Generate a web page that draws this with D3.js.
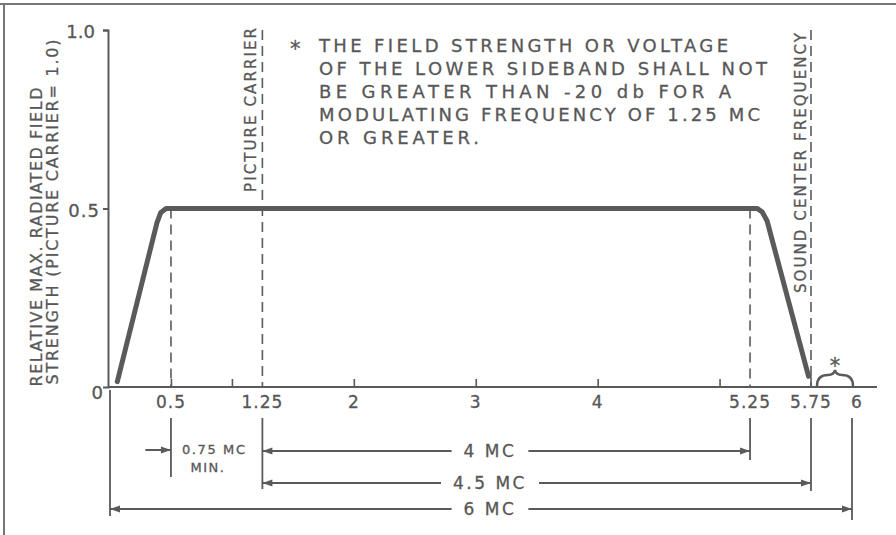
<!DOCTYPE html>
<html>
<head>
<meta charset="utf-8">
<script src="https://cdn.jsdelivr.net/npm/d3@7"></script>
<style>
  body { margin: 0; background: #fff; }
  text { font-family: "DejaVu Sans", sans-serif; fill: #575757; stroke: #575757; stroke-width: 0.3; }
</style>
</head>
<body>
<svg id="chart" width="896" height="535"></svg>
<script>
// response curve (MC, relative field strength)
const curveX = [0.06, 0.385, 0.415, 0.46, 5.31, 5.35, 5.39, 5.73];
const curveY = [0.015, 0.46, 0.488, 0.5, 0.5, 0.49, 0.465, 0.03];

const xTickMarks = [0.5, 1, 2, 3, 4, 5];
const xTickLabels = [0.5, 1.25, 2, 3, 4, 5.25, 5.75, 6];
const yTicks = [0, 0.5, 1.0];
const yTickLabels = ["0", "0.5", "1.0"];

// dashed verticals: frequency and value where they start
const refX = [0.5, 1.25, 5.25, 5.75];
const refTop = [0.5, 1.0, 0.5, 1.0];

// dimension lines below the axis
const dimLabels = ["4 MC", "4.5 MC", "6 MC"];
const dimStart = [1.25, 1.25, 0];
const dimEnd = [5.25, 5.75, 6];

const noteLines = [
  "THE FIELD STRENGTH OR VOLTAGE",
  "OF THE LOWER SIDEBAND SHALL NOT",
  "BE GREATER THAN  -20 db FOR A",
  "MODULATING FREQUENCY OF 1.25 MC",
  "OR GREATER."
];
const yTitle = ["RELATIVE MAX. RADIATED FIELD", "STRENGTH (PICTURE CARRIER= 1.0)"];

const ink = "#5a5a5a";
const svg = d3.select("#chart");

const x = d3.scaleLinear().domain([0, 5.75, 6]).range([110, 811, 852]);
const y = d3.scaleLinear().domain([0, 1]).range([387, 30]);

// frame
svg.append("line").attr("x1", 0).attr("x2", 896).attr("y1", 4).attr("y2", 4)
  .attr("stroke", "#777").attr("stroke-width", 2);
svg.append("line").attr("x1", 4).attr("x2", 4).attr("y1", 4).attr("y2", 535)
  .attr("stroke", "#777").attr("stroke-width", 2);

// arrow marker
svg.append("defs").append("marker")
  .attr("id", "arr")
  .attr("viewBox", "0 -4 10 8")
  .attr("refX", 10).attr("refY", 0)
  .attr("markerUnits", "userSpaceOnUse")
  .attr("markerWidth", 11).attr("markerHeight", 8)
  .attr("orient", "auto-start-reverse")
  .append("path").attr("d", "M0,-3.6L10,0L0,3.6Z").attr("fill", ink);

// y axis
const yAxis = svg.append("g")
  .attr("transform", `translate(${x(0) - 2},0)`)
  .call(d3.axisLeft(y).tickValues([0.5, 1]).tickSize(5).tickFormat(""));
yAxis.select(".domain").attr("stroke", ink).attr("stroke-width", 2);
yAxis.selectAll(".tick line").attr("stroke", ink).attr("stroke-width", 2);

svg.selectAll(".ylab").data(yTicks).join("text")
  .attr("class", "ylab")
  .attr("x", (d, i) => x(0) - (i === 0 ? 6 : i === 1 ? 10 : 15))
  .attr("y", d => y(d) + (d === 0 ? 6 : 2))
  .attr("dy", "0.36em")
  .attr("text-anchor", "end")
  .attr("font-size", 18)
  .attr("letter-spacing", (d, i) => i === 2 ? 0 : 1)
  .text((d, i) => yTickLabels[i]);

// x axis baseline and ticks
svg.append("line")
  .attr("x1", x(0) - 2).attr("x2", x(6) + 25)
  .attr("y1", y(0)).attr("y2", y(0))
  .attr("stroke", ink).attr("stroke-width", 2);

const xAxis = svg.append("g")
  .attr("transform", `translate(0,${y(0)})`)
  .call(d3.axisBottom(x).tickValues(xTickMarks).tickSize(-8).tickFormat(""));
xAxis.select(".domain").remove();
xAxis.selectAll(".tick line").attr("stroke", ink).attr("stroke-width", 1.6);

svg.selectAll(".xlab").data(xTickLabels).join("text")
  .attr("class", "xlab")
  .attr("x", d => x(d) + (d === 6 ? 5 : 0))
  .attr("y", y(0) + 21)
  .attr("text-anchor", "middle")
  .attr("font-size", 17)
  .attr("letter-spacing", 1)
  .text(d => d);

// dashed reference lines
svg.selectAll(".ref").data(refX).join("line")
  .attr("class", "ref")
  .attr("x1", d => x(d)).attr("x2", d => x(d))
  .attr("y1", (d, i) => y(refTop[i]))
  .attr("y2", y(0))
  .attr("stroke", ink).attr("stroke-width", 1.6)
  .attr("stroke-dasharray", "10,6");

// vertical labels
svg.append("text")
  .attr("transform", `translate(${x(1.25) - 5},110) rotate(-90)`)
  .attr("text-anchor", "middle").attr("dy", "-0.1em")
  .attr("font-size", 15)
  .attr("textLength", 164).attr("lengthAdjust", "spacing")
  .text("PICTURE CARRIER");

svg.append("text")
  .attr("transform", `translate(${x(5.75) - 4},163) rotate(-90)`)
  .attr("text-anchor", "middle").attr("dy", "-0.1em")
  .attr("font-size", 15)
  .attr("textLength", 260).attr("lengthAdjust", "spacing")
  .text("SOUND CENTER FREQUENCY");

// y title
const titleCenter = [[36, 237, 299], [52, 212, 345]];
yTitle.forEach((t, i) => {
  svg.append("text")
    .attr("transform", `translate(${titleCenter[i][0]},${titleCenter[i][1]}) rotate(-90)`)
    .attr("text-anchor", "middle").attr("dy", "0.36em")
    .attr("font-size", 16)
    .attr("textLength", titleCenter[i][2]).attr("lengthAdjust", "spacing")
    .text(t);
});

// note text
const noteWidth = [409, 448, 412, 441, 160];
svg.append("text")
  .attr("x", 290).attr("y", 48).attr("dy", "0.36em")
  .attr("font-size", 21).text("*");
noteLines.forEach((t, i) => {
  svg.append("text")
    .attr("x", 319).attr("y", 46 + i * 23).attr("dy", "0.36em")
    .attr("font-size", 18)
    .attr("textLength", noteWidth[i]).attr("lengthAdjust", "spacing")
    .text(t);
});

// response curve
const line = d3.line()
  .x(d => x(d[0])).y(d => y(d[1]));
svg.append("path")
  .datum(curveX.map((v, i) => [v, curveY[i]]))
  .attr("d", line)
  .attr("fill", "none")
  .attr("stroke", ink)
  .attr("stroke-width", 5)
  .attr("stroke-linecap", "round")
  .attr("stroke-linejoin", "round");

// short stub at 5.75
svg.append("line")
  .attr("x1", x(5.75)).attr("x2", x(5.75))
  .attr("y1", y(0.03)).attr("y2", y(0))
  .attr("stroke", ink).attr("stroke-width", 1.6);

// brace over 5.75 - 6
const bx0 = x(5.75) + 6, bx1 = x(6) + 1, bm = (bx0 + bx1) / 2, bb = y(0) - 1, bt = y(0) - 12;
svg.append("path")
  .attr("d", `M${bx0},${bb} Q${bx0},${bt} ${bm - 7},${bt} Q${bm - 1},${bt} ${bm},${bt - 5}` +
             ` Q${bm + 1},${bt} ${bm + 7},${bt} Q${bx1},${bt} ${bx1},${bb}`)
  .attr("fill", "none").attr("stroke", ink).attr("stroke-width", 2.4);
svg.append("text")
  .attr("x", bm).attr("y", bt - 10).attr("dy", "0.36em")
  .attr("text-anchor", "middle").attr("font-size", 21).text("*");

// dimension rows
const rowY = [451, 483, 509];
const g = svg.append("g");

// extension lines
const extX = [0, 0.5, 1.25, 5.25, 5.75, 6];
const extBottom = [516, 477, 489, 460, 491, 520];
extX.forEach((v, i) => {
  g.append("line")
    .attr("x1", x(v)).attr("x2", x(v))
    .attr("y1", v === 0 ? y(0) + 3 : 418)
    .attr("y2", extBottom[i])
    .attr("stroke", ink).attr("stroke-width", 1.8);
});

dimLabels.forEach((t, i) => {
  const label = g.append("text")
    .attr("x", 490).attr("y", rowY[i]).attr("dy", "0.36em")
    .attr("text-anchor", "middle")
    .attr("font-size", 17).attr("letter-spacing", 2.5)
    .text(t);
  const w = label.node().getComputedTextLength();
  const gap = 12;
  g.append("line")
    .attr("x1", x(dimStart[i])).attr("x2", 490 - w / 2 - gap)
    .attr("y1", rowY[i]).attr("y2", rowY[i])
    .attr("stroke", ink).attr("stroke-width", 2)
    .attr("marker-start", "url(#arr)");
  g.append("line")
    .attr("x1", 490 + w / 2 + gap).attr("x2", x(dimEnd[i]))
    .attr("y1", rowY[i]).attr("y2", rowY[i])
    .attr("stroke", ink).attr("stroke-width", 2)
    .attr("marker-end", "url(#arr)");
});

// 0.75 MC minimum
g.append("line")
  .attr("x1", x(0.29)).attr("x2", x(0.5))
  .attr("y1", 450).attr("y2", 450)
  .attr("stroke", ink).attr("stroke-width", 2)
  .attr("marker-end", "url(#arr)");
g.append("text")
  .attr("x", x(0.5) + 11).attr("y", 449).attr("dy", "0.36em")
  .attr("font-size", 13).attr("letter-spacing", 1)
  .attr("textLength", 64).attr("lengthAdjust", "spacing")
  .text("0.75 MC");
g.append("text")
  .attr("x", x(0.5) + 37).attr("y", 467).attr("dy", "0.36em")
  .attr("text-anchor", "middle")
  .attr("font-size", 13).attr("letter-spacing", 1.5)
  .text("MIN.");
</script>
</body>
</html>
